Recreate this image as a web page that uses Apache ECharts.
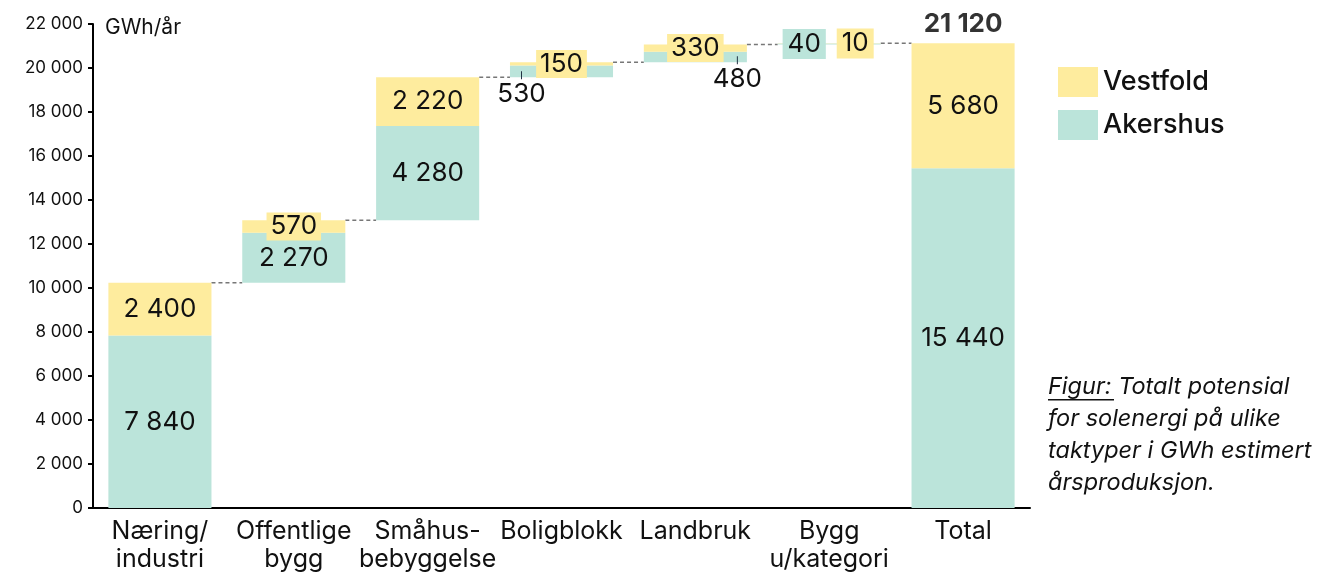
<!DOCTYPE html>
<html><head><meta charset="utf-8">
<script src="https://cdn.jsdelivr.net/npm/echarts@6/dist/echarts.min.js"></script>
<style>html,body{margin:0;padding:0;background:#fff}#c{width:1335px;height:575px}</style>
</head><body><div id="c"></div>
<script>
const categories = ['Næring/\nindustri', 'Offentlige\nbygg', 'Småhus-\nbebyggelse', 'Boligblokk', 'Landbruk', 'Bygg\nu/kategori', 'Total'];
const akershus = [7840, 2270, 4280, 530, 480, 40];
const vestfold = [2400, 570, 2220, 150, 330, 10];
const yTicks = [0, 2000, 4000, 6000, 8000, 10000, 12000, 14000, 16000, 18000, 20000, 22000];
const yUnit = 'GWh/år';
const caption = ['Totalt potensial', 'for solenergi på ulike', 'taktyper i GWh estimert', 'årsproduksjon.'];

const FONT = 'Inter';
const YEL = '#FEEC9E', TEAL = '#BBE4DA', INK = '#111';
const fmt = v => String(v).replace(/\B(?=(\d{3})+(?!\d))/g, ' ');

const totA = akershus.reduce((a, b) => a + b, 0);
const totV = vestfold.reduce((a, b) => a + b, 0);
const base = [];
const tops = [];
let run = 0;
for (let i = 0; i < akershus.length; i++) {
  base.push(run);
  run += akershus[i] + vestfold[i];
  tops.push(run);
}
base.push(0);
const aData = akershus.concat([totA]);
const vData = vestfold.concat([totV]);

const lblBase = { show: true, position: 'inside', color: INK, fontFamily: FONT, fontSize: 26, formatter: p => fmt(p.value) };
const tickRich = { tick: { width: 1, height: 8, backgroundColor: '#234' }, v: { fontFamily: FONT, fontSize: 26, color: INK, padding: [2, 0, 0, 0] } };

const aLabel = i => {
  if (i === 3) return { position: 'bottom', distance: -6, offset: [-40, 0], formatter: p => '{tick|}\n{v|' + fmt(p.value) + '}', rich: tickRich };
  if (i === 4) return { position: 'bottom', distance: -6, offset: [42, 0], formatter: p => '{tick|}\n{v|' + fmt(p.value) + '}', rich: tickRich };
  if (i === 5) return { offset: [-25, 0], backgroundColor: TEAL, padding: [2, 5, 2, 5] };
  return {};
};
const vLabel = i => {
  if (i === 1 || i === 3 || i === 4) return { backgroundColor: YEL, padding: [1, 4, 1, 4] };
  if (i === 5) return { offset: [26, 0], backgroundColor: YEL, padding: [2, 5, 2, 5] };
  return {};
};

const chart = echarts.init(document.getElementById('c'));
chart.setOption({
  animation: false,
  textStyle: { fontFamily: FONT },
  grid: { left: 93, right: 305, top: 24, bottom: 67, containLabel: false },
  legend: {
    orient: 'vertical', left: 1058, top: 67, padding: 0, itemWidth: 40, itemHeight: 30, itemGap: 13,
    icon: 'rect', data: ['Vestfold', 'Akershus'],
    textStyle: { fontFamily: FONT, fontSize: 27, fontWeight: 500, color: INK, padding: [0, 0, 0, 0] }
  },
  xAxis: {
    type: 'category', data: categories,
    axisLine: { lineStyle: { color: '#000', width: 2 } },
    axisTick: { show: false },
    axisLabel: { fontFamily: FONT, fontSize: 25, color: INK, lineHeight: 28, margin: 9, interval: 0 }
  },
  yAxis: {
    type: 'value', min: 0, max: 22000, interval: 2000,
    name: yUnit, nameLocation: 'end', nameGap: -4,
    nameTextStyle: { fontFamily: FONT, fontSize: 21, color: INK, align: 'left', verticalAlign: 'middle', padding: [0, 0, 0, 12] },
    axisLine: { show: true, lineStyle: { color: '#000', width: 2 } },
    axisTick: { show: true, length: 5, lineStyle: { color: '#000', width: 2 } },
    splitLine: { show: false },
    axisLabel: { fontFamily: FONT, fontSize: 17, color: INK, margin: 10, formatter: v => yTicks.includes(v) ? fmt(v) : '' }
  },
  graphic: [
    { type: 'text', left: 1048, top: 371, style: { text: 'Figur: ' + caption[0] + '\n' + caption.slice(1).join('\n'), font: 'italic 23.5px ' + FONT, fill: INK, lineHeight: 32 } },
    { type: 'rect', left: 1048, top: 399, shape: { width: 66, height: 1.5 }, style: { fill: INK } }
  ],
  series: [
    { name: 'base', type: 'bar', stack: 'w', barWidth: '77%', silent: true, itemStyle: { color: 'transparent' }, data: base },
    { name: 'Akershus', type: 'bar', stack: 'w', itemStyle: { color: TEAL }, z: 3,
      data: aData.map((v, i) => ({ value: v, label: Object.assign({}, lblBase, aLabel(i)) })) },
    { name: 'Vestfold', type: 'bar', stack: 'w', itemStyle: { color: YEL }, z: 3,
      data: vData.map((v, i) => ({ value: v, label: Object.assign({}, lblBase, vLabel(i)) })) },
    { name: 'conn', type: 'custom', z: 1, silent: true,
      data: tops.map((t, i) => [i, t]),
      renderItem: (params, api) => {
        const p = api.coord([api.value(0), api.value(1)]);
        const bw = api.size([1, 0])[0];
        const half = bw * 0.77 / 2;
        return { type: 'line', shape: { x1: p[0] + half, y1: p[1], x2: p[0] + bw - half, y2: p[1] },
          style: { stroke: '#777', lineWidth: 1.5, lineDash: [4, 3] } };
      } },
    { name: 'totalLabel', type: 'scatter', symbolSize: 0, silent: true,
      data: [[categories.length - 1, totA + totV]],
      label: { show: true, position: 'top', distance: 6, formatter: p => fmt(p.value[1]), fontFamily: FONT, fontSize: 26, fontWeight: 'bold', color: '#000' } }
  ]
});
</script></body></html>
